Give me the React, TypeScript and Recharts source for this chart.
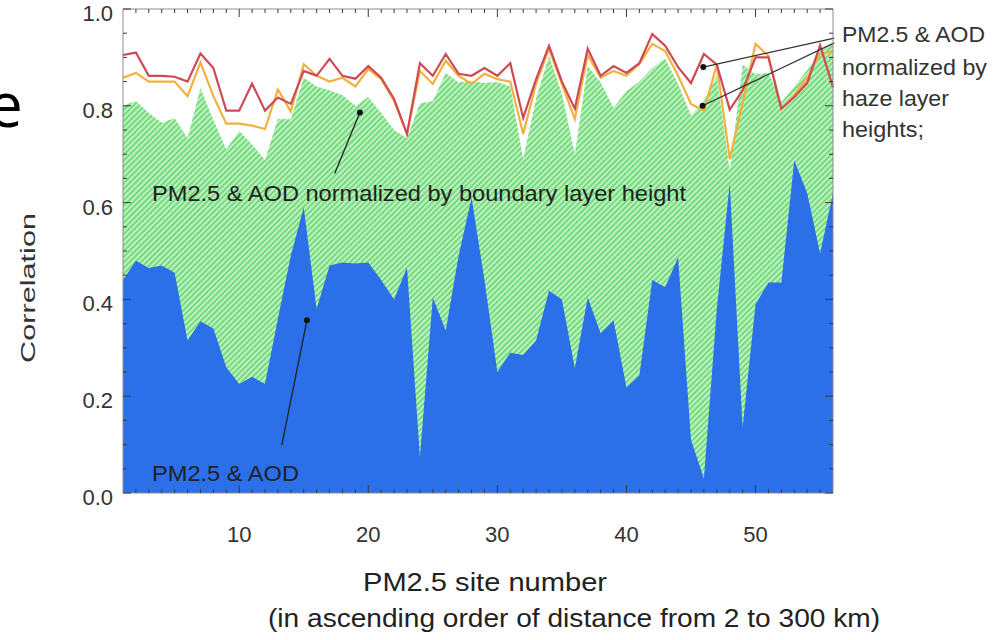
import {
  Area,
  ComposedChart,
  Line,
  ReferenceDot,
  ReferenceLine,
  XAxis,
  YAxis,
} from "recharts";

// PM2.5 sites, ordered by distance (2 to 300 km)
const siteNumbers = [
  1, 2, 3, 4, 5, 6, 7, 8, 9, 10, 11, 12, 13, 14, 15, 16, 17, 18, 19, 20,
  21, 22, 23, 24, 25, 26, 27, 28, 29, 30, 31, 32, 33, 34, 35, 36, 37, 38, 39, 40,
  41, 42, 43, 44, 45, 46, 47, 48, 49, 50, 51, 52, 53, 54, 55, 56,
];

// PM2.5 & AOD (blue)
const aodCorr = [
  0.44, 0.48, 0.465, 0.47, 0.455, 0.315, 0.355, 0.34, 0.26, 0.225,
  0.24, 0.225, 0.36, 0.49, 0.59, 0.38, 0.47, 0.476, 0.474, 0.476,
  0.44, 0.4, 0.466, 0.074, 0.404, 0.336, 0.49, 0.61, 0.44, 0.25,
  0.29, 0.285, 0.315, 0.418, 0.4, 0.258, 0.404, 0.33, 0.357, 0.218,
  0.243, 0.44, 0.425, 0.487, 0.11, 0.03, 0.38, 0.64, 0.136, 0.39,
  0.435, 0.435, 0.687, 0.62, 0.495, 0.62,
];

// normalized by boundary layer height (hatched green)
const blhCorr = [
  0.8, 0.81, 0.785, 0.765, 0.775, 0.733, 0.837, 0.77, 0.71, 0.748,
  0.72, 0.688, 0.773, 0.772, 0.858, 0.84, 0.832, 0.822, 0.8, 0.818,
  0.785, 0.75, 0.733, 0.805, 0.81, 0.868, 0.848, 0.852, 0.847, 0.849,
  0.84, 0.69, 0.815, 0.903, 0.825, 0.7, 0.882, 0.848, 0.796, 0.83,
  0.85, 0.878, 0.897, 0.845, 0.78, 0.81, 0.862, 0.666, 0.885, 0.865,
  0.868, 0.808, 0.84, 0.874, 0.912, 0.93,
];

// normalized by haze layer heights (red / orange)
const hazeCorrRed = [
  0.905, 0.91, 0.862, 0.862, 0.86, 0.85, 0.908, 0.878, 0.79, 0.79,
  0.846, 0.79, 0.817, 0.804, 0.872, 0.862, 0.897, 0.862, 0.856, 0.882,
  0.858, 0.814, 0.742, 0.888, 0.862, 0.907, 0.866, 0.862, 0.878, 0.862,
  0.888, 0.775, 0.855, 0.924, 0.85, 0.794, 0.918, 0.862, 0.882, 0.868,
  0.888, 0.948, 0.924, 0.88, 0.847, 0.907, 0.885, 0.792, 0.832, 0.9,
  0.9, 0.794, 0.818, 0.847, 0.925, 0.838,
];
const hazeCorrOrange = [
  0.858, 0.868, 0.85, 0.85, 0.85, 0.82, 0.89, 0.82, 0.763, 0.763,
  0.759, 0.752, 0.834, 0.788, 0.886, 0.862, 0.85, 0.858, 0.84, 0.876,
  0.855, 0.81, 0.742, 0.872, 0.845, 0.893, 0.862, 0.845, 0.866, 0.855,
  0.85, 0.742, 0.846, 0.918, 0.845, 0.773, 0.905, 0.858, 0.872, 0.862,
  0.887, 0.928, 0.913, 0.862, 0.804, 0.79, 0.885, 0.69, 0.806, 0.928,
  0.903, 0.794, 0.822, 0.858, 0.907, 0.913,
];

// ticks: every site gets a small tick, labelled ones are long
const xTicks = [
  2, 3, 4, 5, 6, 7, 8, 9, 10, 11, 12, 13, 14, 15, 16, 17, 18, 19, 20, 21, 22,
  23, 24, 25, 26, 27, 28, 29, 30, 31, 32, 33, 34, 35, 36, 37, 38, 39, 40, 41,
  42, 43, 44, 45, 46, 47, 48, 49, 50, 51, 52, 53, 54, 55,
];
const xMajorTicks = [10, 20, 30, 40, 50];
const yTicks = [
  0, 0.05, 0.1, 0.15, 0.2, 0.25, 0.3, 0.35, 0.4, 0.45, 0.5, 0.55, 0.6, 0.65,
  0.7, 0.75, 0.8, 0.85, 0.9, 0.95, 1.0,
];
const yMajorTicks = [0, 0.2, 0.4, 0.6, 0.8, 1.0];

const chartData = siteNumbers.map((site, i) => ({
  site,
  aod: aodCorr[i],
  blh: blhCorr[i],
  hazeRed: hazeCorrRed[i],
  hazeOrange: hazeCorrOrange[i],
}));

const FONT = '"Liberation Sans", Arial, Helvetica, sans-serif';
const BOX = "#8c8c8c";
const TICK = "#3a3a3a";
const MAJOR = 8;
const MINOR = 4;

// tick line drawn inward from the frame, label only on the labelled ticks
function BottomTick(props: any) {
  const { x, y, payload } = props;
  const major = xMajorTicks.includes(payload.value);
  return (
    <g>
      <line x1={x} x2={x} y1={y} y2={y - (major ? MAJOR : MINOR)} stroke={TICK} strokeWidth={1} />
      {major && (
        <text x={x} y={y + 49} textAnchor="middle" fontFamily={FONT} fontSize={22} fill="#333">
          {payload.value}
        </text>
      )}
    </g>
  );
}

function TopTick(props: any) {
  const { x, y, payload } = props;
  const major = xMajorTicks.includes(payload.value);
  return <line x1={x} x2={x} y1={y} y2={y + (major ? MAJOR : MINOR)} stroke={TICK} strokeWidth={1} />;
}

function LeftTick(props: any) {
  const { x, y, payload } = props;
  const major = yMajorTicks.includes(payload.value);
  return (
    <g>
      <line x1={x} x2={x + (major ? MAJOR : MINOR)} y1={y} y2={y} stroke={TICK} strokeWidth={1} />
      {major && (
        <text x={x - 10} y={y + 12} textAnchor="end" fontFamily={FONT} fontSize={22} fill="#333">
          {Number(payload.value).toFixed(1)}
        </text>
      )}
    </g>
  );
}

function RightTick(props: any) {
  const { x, y, payload } = props;
  const major = yMajorTicks.includes(payload.value);
  return <line x1={x} x2={x - (major ? MAJOR : MINOR)} y1={y} y2={y} stroke={TICK} strokeWidth={1} />;
}

export default function App() {
  return (
    <div style={{ position: "absolute", left: 0, top: 0, width: 999, height: 640, background: "#fff" }}>
      <ComposedChart
        width={999}
        height={640}
        data={chartData}
        margin={{ top: 8, right: 165, bottom: 146, left: 122 }}
      >
        <defs>
          <pattern id="hatch" patternUnits="userSpaceOnUse" width="4" height="4" patternTransform="rotate(45)">
            <rect width="4" height="4" fill="#bdf2bf" />
            <rect width="2" height="4" fill="#76db80" />
          </pattern>
        </defs>

        <XAxis
          xAxisId="x"
          dataKey="site"
          type="number"
          domain={[1, 56]}
          ticks={xTicks}
          interval={0}
          height={1}
          tickSize={0}
          tickMargin={0}
          stroke={BOX}
          tickLine={false}
          tick={<BottomTick />}
        />
        <XAxis
          xAxisId="xt"
          orientation="top"
          dataKey="site"
          type="number"
          domain={[1, 56]}
          ticks={xTicks}
          interval={0}
          height={1}
          tickSize={0}
          tickMargin={0}
          stroke={BOX}
          tickLine={false}
          tick={<TopTick />}
        />
        <YAxis
          yAxisId="y"
          type="number"
          domain={[0, 1]}
          ticks={yTicks}
          interval={0}
          width={1}
          tickSize={0}
          tickMargin={0}
          stroke={BOX}
          tickLine={false}
          tick={<LeftTick />}
        />
        <YAxis
          yAxisId="yr"
          orientation="right"
          type="number"
          domain={[0, 1]}
          ticks={yTicks}
          interval={0}
          width={1}
          tickSize={0}
          tickMargin={0}
          stroke={BOX}
          tickLine={false}
          tick={<RightTick />}
        />

        <Area
          xAxisId="x"
          yAxisId="y"
          type="linear"
          dataKey="blh"
          fill="url(#hatch)"
          fillOpacity={1}
          stroke="none"
          isAnimationActive={false}
        />
        <Area
          xAxisId="x"
          yAxisId="yr"
          type="linear"
          dataKey="aod"
          fill="#2b6fe9"
          fillOpacity={1}
          stroke="none"
          isAnimationActive={false}
        />
        <Line
          xAxisId="xt"
          yAxisId="y"
          type="linear"
          dataKey="hazeOrange"
          stroke="#f2b13f"
          strokeWidth={2.2}
          dot={false}
          isAnimationActive={false}
        />
        <Line
          xAxisId="xt"
          yAxisId="yr"
          type="linear"
          dataKey="hazeRed"
          stroke="#cf4a57"
          strokeWidth={2.2}
          dot={false}
          isAnimationActive={false}
        />

        <ReferenceLine
          xAxisId="x"
          yAxisId="y"
          segment={[{ x: 17.4, y: 0.66 }, { x: 19.35, y: 0.786 }]}
          stroke="#222"
          strokeWidth={1.3}
          ifOverflow="visible"
        />
        <ReferenceDot xAxisId="x" yAxisId="y" x={19.35} y={0.786} r={3} fill="#111" stroke="none" ifOverflow="visible" />
        <ReferenceLine
          xAxisId="x"
          yAxisId="y"
          segment={[{ x: 13.3, y: 0.099 }, { x: 15.25, y: 0.357 }]}
          stroke="#222"
          strokeWidth={1.3}
          ifOverflow="visible"
        />
        <ReferenceDot xAxisId="x" yAxisId="y" x={15.25} y={0.357} r={3} fill="#111" stroke="none" ifOverflow="visible" />
        <ReferenceLine
          xAxisId="x"
          yAxisId="y"
          segment={[{ x: 56.1, y: 0.94 }, { x: 45.95, y: 0.88 }]}
          stroke="#333"
          strokeWidth={1.2}
          ifOverflow="visible"
        />
        <ReferenceDot xAxisId="x" yAxisId="y" x={45.95} y={0.88} r={3} fill="#111" stroke="none" ifOverflow="visible" />
        <ReferenceLine
          xAxisId="x"
          yAxisId="y"
          segment={[{ x: 56.1, y: 0.93 }, { x: 45.9, y: 0.8 }]}
          stroke="#333"
          strokeWidth={1.2}
          ifOverflow="visible"
        />
        <ReferenceDot xAxisId="x" yAxisId="y" x={45.9} y={0.8} r={3} fill="#111" stroke="none" ifOverflow="visible" />
      </ComposedChart>

      <svg
        width={999}
        height={640}
        style={{ position: "absolute", left: 0, top: 0, pointerEvents: "none" }}
        fontFamily={FONT}
      >
        <text x={-12} y={127} fontSize={62} fontFamily='"Open Sans", "Noto Sans", sans-serif' fill="#000">
          e
        </text>
        <text
          x={35}
          y={288}
          transform="rotate(-90 35 288)"
          textAnchor="middle"
          fontSize={21}
          fill="#333"
          textLength={150}
          lengthAdjust="spacingAndGlyphs"
        >
          Correlation
        </text>
        <text x={485} y={591} textAnchor="middle" fontSize={26} fill="#222" textLength={244} lengthAdjust="spacingAndGlyphs">
          PM2.5 site number
        </text>
        <text x={574} y={627} textAnchor="middle" fontSize={26} fill="#222" textLength={612} lengthAdjust="spacingAndGlyphs">
          (in ascending order of distance from 2 to 300 km)
        </text>
        <text x={152} y={201} fontSize={22} fill="#222" textLength={534} lengthAdjust="spacingAndGlyphs">
          PM2.5 &amp; AOD normalized by boundary layer height
        </text>
        <text x={152} y={481} fontSize={22} fill="#222" textLength={147} lengthAdjust="spacingAndGlyphs">
          PM2.5 &amp; AOD
        </text>
        <text x={842} y={42} fontSize={22} fill="#333" textLength={143} lengthAdjust="spacingAndGlyphs">
          PM2.5 &amp; AOD
        </text>
        <text x={842} y={75} fontSize={22} fill="#333" textLength={145} lengthAdjust="spacingAndGlyphs">
          normalized by
        </text>
        <text x={842} y={106} fontSize={22} fill="#333" textLength={107} lengthAdjust="spacingAndGlyphs">
          haze layer
        </text>
        <text x={842} y={137} fontSize={22} fill="#333" textLength={82} lengthAdjust="spacingAndGlyphs">
          heights;
        </text>
      </svg>
    </div>
  );
}
